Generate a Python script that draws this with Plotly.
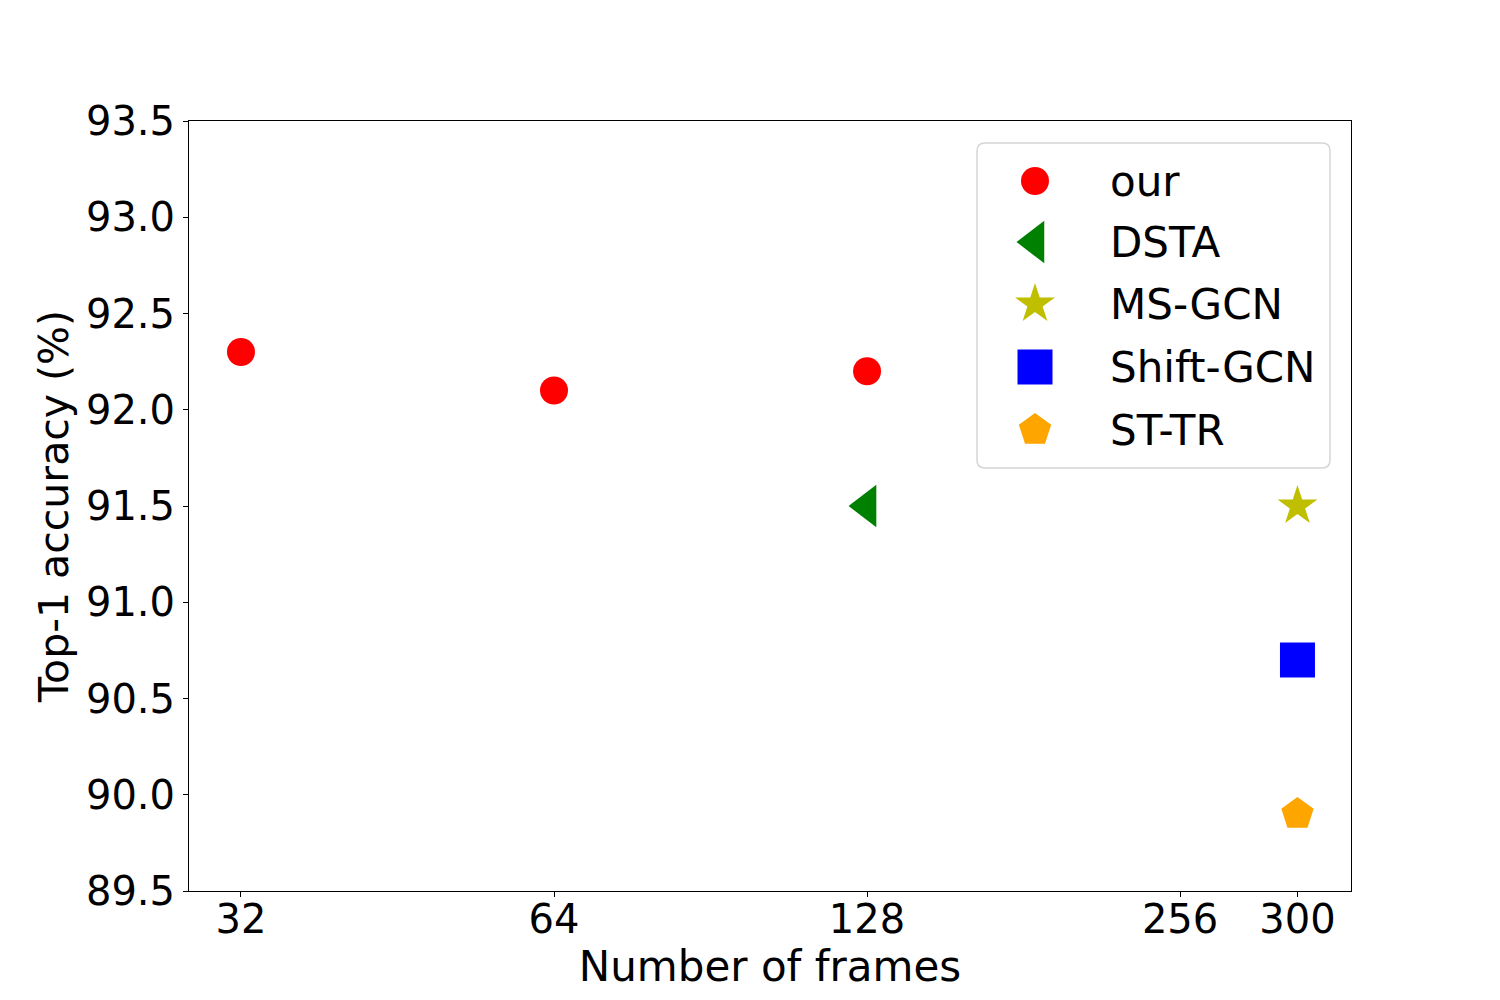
import plotly.graph_objects as go

# Data
frame_labels = ["32", "64", "128", "256", "300"]
frame_pos = [0, 1, 2, 3, 3.375]  # axis positions of the frame ticks

our_frames = [0, 1, 2]          # index into frame_pos
our_acc = [92.3, 92.1, 92.2]
dsta_frames = [2]
dsta_acc = [91.5]
msgcn_frames = [4]
msgcn_acc = [91.5]
shift_frames = [4]
shift_acc = [90.7]
sttr_frames = [4]
sttr_acc = [89.9]

y_ticks = [89.5, 90.0, 90.5, 91.0, 91.5, 92.0, 92.5, 93.0, 93.5]

legend_names = ["our", "DSTA", "MS-GCN", "Shift-GCN", "ST-TR"]

FONT = "DejaVu Sans"

# plot area in pixels (reference)
PX_L, PX_R, PX_T, PX_B = 188, 1350, 120, 890
PW, PH = PX_R - PX_L, PX_B - PX_T


def px2x(px):
    return (px - PX_L) / PW


def px2y(py):
    return (PX_B - py) / PH


def xs(idx):
    return [frame_pos[i] for i in idx]


styles = [
    ("circle", "red", 28),
    ("triangle-left", "green", 37),
    ("star", "#bfbf00", 30),
    ("square", "blue", 35),
    ("pentagon", "orange", 34),
]
data = [
    (our_frames, our_acc),
    (dsta_frames, dsta_acc),
    (msgcn_frames, msgcn_acc),
    (shift_frames, shift_acc),
    (sttr_frames, sttr_acc),
]

fig = go.Figure()
for name, (idx, ys), (sym, col, sz) in zip(legend_names, data, styles):
    fig.add_trace(go.Scatter(
        x=xs(idx), y=ys, mode="markers", name=name, showlegend=False,
        marker=dict(symbol=sym, color=col, size=sz, line=dict(width=0)),
    ))

# custom legend (matplotlib-like, large markers, rounded frame)
leg_x0, leg_x1 = px2x(976), px2x(1329)
leg_y0, leg_y1 = px2y(467), px2y(142)
rx, ry = 8 / PW, 8 / PH
path = (
    f"M{leg_x0 + rx},{leg_y1} L{leg_x1 - rx},{leg_y1} Q{leg_x1},{leg_y1} {leg_x1},{leg_y1 - ry} "
    f"L{leg_x1},{leg_y0 + ry} Q{leg_x1},{leg_y0} {leg_x1 - rx},{leg_y0} "
    f"L{leg_x0 + rx},{leg_y0} Q{leg_x0},{leg_y0} {leg_x0},{leg_y0 + ry} "
    f"L{leg_x0},{leg_y1 - ry} Q{leg_x0},{leg_y1} {leg_x0 + rx},{leg_y1} Z"
)
fig.add_shape(type="path", path=path, xref="paper", yref="paper",
              fillcolor="white", line=dict(color="#d6d6d6", width=1.5),
              layer="below")

leg_rows_px = [180, 241, 303, 366, 429]
mk_x = px2x(1034)
tx_x = px2x(1107)
for name, (sym, col, sz), rpx in zip(legend_names, styles, leg_rows_px):
    fig.add_trace(go.Scatter(
        x=[mk_x], y=[px2y(rpx)], xaxis="x2", yaxis="y2", mode="markers",
        showlegend=False, hoverinfo="skip",
        marker=dict(symbol=sym, color=col, size=sz, line=dict(width=0)),
    ))
    fig.add_annotation(x=tx_x, y=px2y(rpx), xref="paper", yref="paper",
                       text=name, showarrow=False, xanchor="left", yanchor="middle",
                       font=dict(family=FONT, size=42, color="black"))

fig.update_layout(
    width=1500, height=1000,
    margin=dict(l=181, r=157, t=113, b=117),
    paper_bgcolor="white", plot_bgcolor="white",
    font=dict(family=FONT, size=40, color="black"),
    showlegend=False,
    xaxis=dict(
        range=[-0.166, 3.546],
        tickmode="array", tickvals=frame_pos, ticktext=frame_labels,
        ticks="outside", ticklen=5, tickwidth=1, tickcolor="black",
        ticklabelstandoff=-12,
        showline=True, linecolor="black", linewidth=1, mirror=True,
        showgrid=False, zeroline=False,
        title=dict(text="Number of frames", font=dict(family=FONT, size=42), standoff=4),
    ),
    yaxis=dict(
        range=[89.5, 93.5],
        tickmode="array", tickvals=y_ticks, ticktext=[f"{v:.1f}" for v in y_ticks],
        ticks="outside", ticklen=5, tickwidth=1, tickcolor="black",
        showline=True, linecolor="black", linewidth=1, mirror=True,
        showgrid=False, zeroline=False,
        title=dict(text="Top-1 accuracy (%)", font=dict(family=FONT, size=41), standoff=4),
    ),
    xaxis2=dict(overlaying="x", range=[0, 1], visible=False, fixedrange=True),
    yaxis2=dict(overlaying="y", range=[0, 1], visible=False, fixedrange=True),
)

fig.write_html("out.html")
